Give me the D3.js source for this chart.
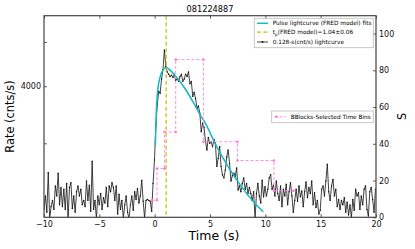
<!DOCTYPE html>
<html>
<head>
<meta charset="utf-8">
<script src="https://cdn.jsdelivr.net/npm/d3@7"></script>
<style>
  body { margin: 0; background: #fff; }
  text { font-family: "DejaVu Sans", sans-serif; }
</style>
</head>
<body>
<svg id="chart" width="415" height="249"></svg>
<script>
// 0.128-s binned light curve, first bin at -10 s (cnts/s)
const timeStart = -10;
const binSize = 0.128;
const rates = [
  2150, 2300, 2120, 2590, 2050, 2180, 2250, 2150, 2420, 2300,
  2580, 2200, 2400, 2180, 2380, 2150, 2450, 2050, 2400, 2460,
  2160, 2300, 2120, 2350, 2420, 2300, 2380, 2200, 2250, 2180,
  2480, 2250, 2430, 2130, 2740, 2150, 2250, 2050, 2300, 2200,
  2330, 2150, 2280, 2220, 2400, 2180, 2420, 2350, 2460, 2400,
  2250, 2420, 2100, 2320, 2150, 2250, 2050, 2200, 2300, 2120,
  2050, 2200, 2300, 2140, 2350, 2260, 2390, 2220, 2300, 2490,
  2240, 2060, 2250, 2260, 2250, 2240, 2130, 2450, 2760, 3300,
  3650, 3900, 3860, 4150, 4350, 4800, 4420, 4300, 4250, 4200,
  4230, 4180, 4250, 4120, 4150, 4100, 4200, 4250, 4100, 4150,
  4250, 4200, 4300, 4050, 4100, 3800, 3880, 3760, 3580, 3620,
  3490, 3180, 3320, 3250, 3030, 2900, 3090, 3000, 3020, 2950,
  3060, 3000, 2670, 2780, 2950, 2670, 2560, 2520, 2620, 2800,
  2900, 2710, 2480, 2550, 2580, 2540, 2650, 2370, 2420, 2350,
  2450, 2520, 2380, 2450, 2330, 2400, 2330, 2250, 2350, 2050,
  2330, 2450, 2300, 2220, 2490, 2290, 2410, 2300, 2380, 2520,
  2560, 2380, 2430, 2300, 2480, 2330, 2250, 2420, 2180, 2380,
  2300, 2440, 2200, 2350, 2460, 2300, 2120, 2250, 2380, 2240,
  2420, 2290, 2360, 2180, 2350, 2470, 2280, 2400, 2330, 2480,
  2200, 2340, 2170, 2250, 2100, 2140, 2380, 2420, 2300, 2480,
  2700, 2350, 2250, 2420, 2500, 2300, 2380, 2180, 2260, 2150,
  2250, 2200, 2280, 2120, 2230, 2090, 2200, 2060, 2260, 2140,
  2380, 2300, 2340, 2150, 2300, 2200, 2380, 2420, 2150, 2080,
  2350, 2400, 2260, 2120, 2380
];

// FRED model fit
const fitTimes = [0.06, 0.15, 0.30, 0.46, 0.75, 1.05, 1.36, 1.81, 2.41, 3.01, 3.62, 4.21, 4.55, 5.45, 6.65, 7.86, 9.07, 9.82];
const fitRates = [2970, 3520, 3960, 4165, 4343, 4394, 4343, 4235, 4061, 3861, 3640, 3430, 3330, 3000, 2665, 2409, 2215, 2124];
const peakTime = 1.04;

// Bayesian blocks (right axis, S)
const bbEdges = [-0.24, 0.21, 0.89, 1.90, 4.41, 7.48, 10.78, 12.54];
const bbHeights = [9.3, 26.5, 46.4, 85.8, 41.1, 30.9, 14.4];

const xTicks = [-10, -5, 0, 5, 10, 15, 20];
const rateTicks = [3000, 4000, 5000];
const rateTickLabels = ["", "4000", ""];
const sTicks = [0, 20, 40, 60, 80, 100];

const W = 415, H = 249;
const plot = { left: 44, right: 376, top: 15.7, bottom: 217.3 };

const svg = d3.select("#chart");

const x = d3.scaleLinear().domain([-10, 20]).range([plot.left, plot.right]);
const yRate = d3.scaleLog().domain([2066, 5708]).range([plot.bottom, plot.top]);
const yS = d3.scaleLinear().domain([0, 109.7]).range([plot.bottom, plot.top]);

svg.append("defs").append("clipPath").attr("id", "clip")
  .append("rect")
  .attr("x", plot.left).attr("y", plot.top)
  .attr("width", plot.right - plot.left).attr("height", plot.bottom - plot.top);

const body = svg.append("g").attr("clip-path", "url(#clip)");

// light curve
const lc = rates.map((r, i) => ({ t: timeStart + i * binSize, r: r }));
const lcLine = d3.line().x(d => x(d.t)).y(d => yRate(d.r));
body.append("path")
  .datum(lc)
  .attr("d", lcLine)
  .attr("fill", "none")
  .attr("stroke", "#111")
  .attr("stroke-width", 0.8);
body.selectAll("circle.lc")
  .data(lc)
  .enter().append("circle")
  .attr("class", "lc")
  .attr("cx", d => x(d.t))
  .attr("cy", d => yRate(d.r))
  .attr("r", 0.7)
  .attr("fill", "#111");

// FRED fit
const fit = fitTimes.map((t, i) => ({ t: t, r: fitRates[i] }));
body.append("path")
  .datum(fit)
  .attr("d", d3.line().x(d => x(d.t)).y(d => yRate(d.r)).curve(d3.curveMonotoneX))
  .attr("fill", "none")
  .attr("stroke", "#12b8c2")
  .attr("stroke-width", 1.5);

// peak time
body.append("line")
  .attr("x1", x(peakTime)).attr("x2", x(peakTime))
  .attr("y1", plot.top).attr("y2", plot.bottom)
  .attr("stroke", "#c4c000")
  .attr("stroke-width", 1.2)
  .attr("stroke-dasharray", "4,2.5");

// BBlocks steps on the twin axis
const bb = [];
bbHeights.forEach((h, i) => {
  bb.push({ t: bbEdges[i], s: h });
  bb.push({ t: bbEdges[i + 1], s: h });
});
body.append("path")
  .datum(bb)
  .attr("d", d3.line().x(d => x(d.t)).y(d => yS(d.s)))
  .attr("fill", "none")
  .attr("stroke", "#ff8ee0")
  .attr("stroke-width", 1)
  .attr("stroke-dasharray", "3,2");
body.selectAll("circle.bb")
  .data(bb)
  .enter().append("circle")
  .attr("class", "bb")
  .attr("cx", d => x(d.t))
  .attr("cy", d => yS(d.s))
  .attr("r", 1.3)
  .attr("fill", "#ff7ada");

// AXES
const tickCol = "#333";
function styleAxis(g) {
  g.select(".domain").remove();
  g.selectAll("line").attr("stroke", tickCol).attr("stroke-width", 0.8);
  g.selectAll("text").attr("fill", "#111").style("font-size", "8px");
}

svg.append("g")
  .attr("transform", "translate(0," + plot.bottom + ")")
  .call(d3.axisBottom(x).tickValues(xTicks).tickSize(-3).tickPadding(4))
  .call(styleAxis);

svg.append("g")
  .attr("transform", "translate(0," + plot.top + ")")
  .call(d3.axisTop(x).tickValues(xTicks).tickSize(-3).tickFormat(""))
  .call(styleAxis);

svg.append("g")
  .attr("transform", "translate(" + plot.left + ",0)")
  .call(d3.axisLeft(yRate).tickValues(rateTicks).tickSize(-3).tickPadding(3)
    .tickFormat((d, i) => rateTickLabels[i]))
  .call(styleAxis);

svg.append("g")
  .attr("transform", "translate(" + plot.right + ",0)")
  .call(d3.axisRight(yS).tickValues(sTicks).tickSize(-3).tickPadding(3))
  .call(styleAxis);

// frame
svg.append("rect")
  .attr("x", plot.left).attr("y", plot.top)
  .attr("width", plot.right - plot.left).attr("height", plot.bottom - plot.top)
  .attr("fill", "none")
  .attr("stroke", "#444")
  .attr("stroke-width", 1.2);

// labels
svg.append("text")
  .attr("x", 210).attr("y", 12)
  .attr("text-anchor", "middle")
  .style("font-size", "8.2px")
  .text("081224887");

svg.append("text")
  .attr("x", 214).attr("y", 240)
  .attr("text-anchor", "middle")
  .style("font-size", "12.5px")
  .text("Time (s)");

svg.append("text")
  .attr("transform", "translate(14," + ((plot.top + plot.bottom) / 2) + ") rotate(-90)")
  .attr("text-anchor", "middle")
  .style("font-size", "11.4px")
  .text("Rate (cnts/s)");

svg.append("text")
  .attr("transform", "translate(406," + ((plot.top + plot.bottom) / 2) + ") rotate(-90)")
  .attr("text-anchor", "middle")
  .style("font-size", "11.4px")
  .text("S");

// LEGEND 1
const leg = svg.append("g");
leg.append("rect")
  .attr("x", 254.3).attr("y", 18.3).attr("width", 119).attr("height", 29.4)
  .attr("fill", "#fff").attr("stroke", "#bbb").attr("stroke-width", 0.8);

const legRows = [23.3, 32.2, 42];
leg.append("line").attr("x1", 257).attr("x2", 268).attr("y1", legRows[0]).attr("y2", legRows[0])
  .attr("stroke", "#12b8c2").attr("stroke-width", 1.5);
leg.append("line").attr("x1", 257).attr("x2", 268).attr("y1", legRows[1]).attr("y2", legRows[1])
  .attr("stroke", "#c4c000").attr("stroke-width", 1.2).attr("stroke-dasharray", "4,2.5");
leg.append("line").attr("x1", 257).attr("x2", 268).attr("y1", legRows[2]).attr("y2", legRows[2])
  .attr("stroke", "#111").attr("stroke-width", 0.8);
leg.append("circle").attr("cx", 262.5).attr("cy", legRows[2]).attr("r", 0.9).attr("fill", "#111");

leg.append("text").attr("x", 272.7).attr("y", legRows[0] + 2.1)
  .style("font-size", "5.8px").text("Pulse lightcurve (FRED model) fits");
const tp = leg.append("text").attr("x", 272.7).attr("y", legRows[1] + 2.1).style("font-size", "5.8px");
tp.append("tspan").text("t");
tp.append("tspan").attr("dy", 1.2).style("font-size", "4.2px").text("p");
tp.append("tspan").attr("dy", -1.2).text("(FRED model)=1.04\u00b10.06");
leg.append("text").attr("x", 272.7).attr("y", legRows[2] + 2.1)
  .style("font-size", "5.8px").text("0.128-s(cnt/s) lightcurve");

// LEGEND 2
const leg2 = svg.append("g");
leg2.append("rect")
  .attr("x", 271.7).attr("y", 111).attr("width", 101.6).attr("height", 11.7)
  .attr("fill", "#fff").attr("stroke", "#bbb").attr("stroke-width", 0.8);
leg2.append("line").attr("x1", 274.5).attr("x2", 286).attr("y1", 116.8).attr("y2", 116.8)
  .attr("stroke", "#ff8ee0").attr("stroke-width", 1).attr("stroke-dasharray", "3,2");
leg2.append("circle").attr("cx", 276.5).attr("cy", 116.8).attr("r", 1.3).attr("fill", "#ff7ada");
leg2.append("text").attr("x", 290.7).attr("y", 118.9)
  .style("font-size", "5.8px").text("BBlocks-Selected Time Bins");
</script>
</body>
</html>
